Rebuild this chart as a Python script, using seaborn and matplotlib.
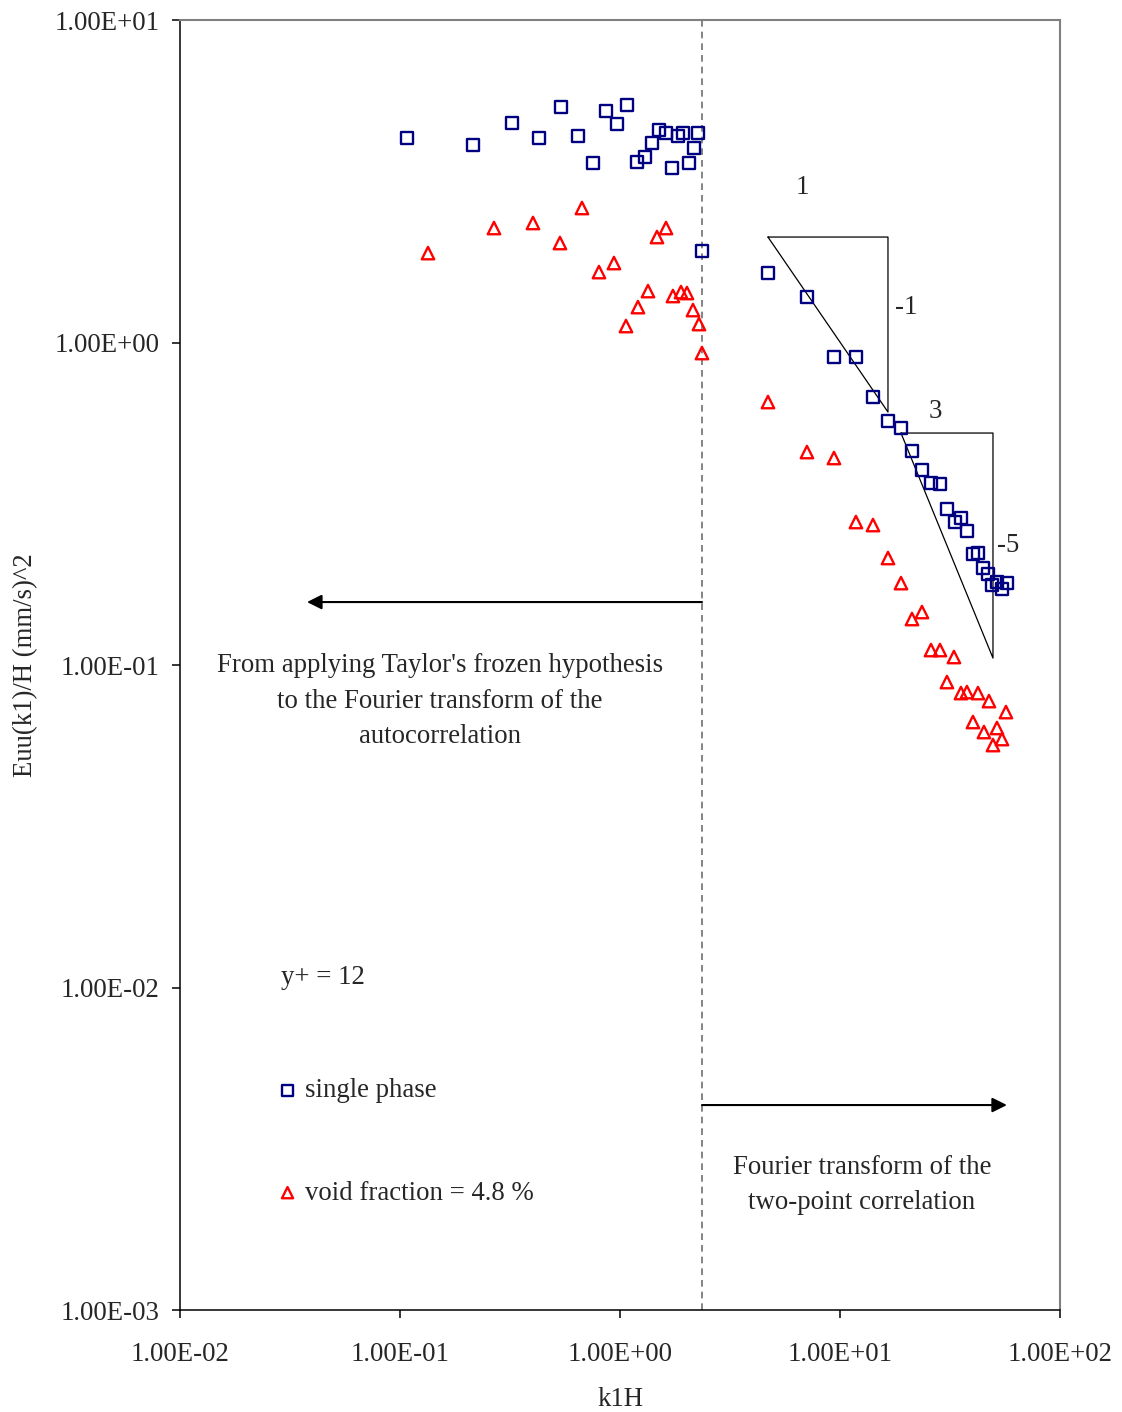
import numpy as np
import pandas as pd
import matplotlib
matplotlib.use("Agg")
import matplotlib.pyplot as plt
import seaborn as sns

# ---------------- data ----------------
single_k = [0.1076, 0.2147, 0.3229, 0.4283, 0.5393, 0.6443, 0.7540, 0.8638, 0.9691, 1.076,
            1.195, 1.299, 1.398, 1.504, 1.619, 1.723, 1.835, 1.933, 2.059, 2.170, 2.262, 2.359,
            4.707, 7.079, 9.391, 11.82, 14.13, 16.53, 18.94, 21.25, 23.59, 25.93, 28.48,
            30.64, 33.32, 35.48, 37.78, 40.23, 42.39, 44.67, 47.07, 49.09, 51.72, 54.50, 57.42]
single_E = [4.307, 4.098, 4.793, 4.307, 5.374, 4.369, 3.603, 5.223, 4.759, 5.452,
            3.628, 3.760, 4.156, 4.559, 4.462, 3.476, 4.369, 4.462, 3.603, 4.011, 4.462, 1.921,
            1.642, 1.384, 0.9016, 0.9016, 0.6776, 0.5711, 0.5432, 0.4609, 0.4024, 0.3667, 0.3641,
            0.3046, 0.2776, 0.2857, 0.2603, 0.2209, 0.2225, 0.1999, 0.1915, 0.1770, 0.1808, 0.1720, 0.1795]

void_k = [0.1341, 0.2675, 0.4023, 0.5336, 0.6718, 0.8027, 0.9391, 1.065, 1.207, 1.341,
          1.473, 1.619, 1.741, 1.894, 2.016, 2.147, 2.286, 2.359,
          4.707, 7.079, 9.391, 11.82, 14.13, 16.53, 18.94, 21.25, 23.59, 25.93, 28.48,
          32.97, 30.64, 35.48, 37.78, 42.39, 47.56, 56.82, 40.23, 45.13, 51.72, 49.61, 54.50]
void_E = [1.894, 2.265, 2.348, 2.035, 2.613, 1.654, 1.764, 1.125, 1.288, 1.444,
          2.124, 2.265, 1.394, 1.434, 1.424, 1.261, 1.141, 0.9277,
          0.6539, 0.4576, 0.4385, 0.2776, 0.2717, 0.2147, 0.1795, 0.1389, 0.1460, 0.1113, 0.1113,
          0.1059, 0.08857, 0.08187, 0.08246, 0.08187, 0.07731, 0.07148, 0.06658, 0.06198, 0.06380, 0.05648, 0.05895]

# slope-guide triangles (annotations)
tri1_k = [4.707, 16.53, 16.53, 4.707]
tri1_E = [2.124, 2.124, 0.6088, 2.124]
tri2_k = [18.94, 49.61, 49.61, 18.94]
tri2_E = [0.5241, 0.5241, 0.1051, 0.5241]

split_k = 2.36
left_arrow = ((2.36, 0.1568), (0.0378, 0.1568))
right_arrow = ((2.36, 0.004322), (57.4, 0.004322))

tick_vals = [1e-2, 1e-1, 1e0, 1e1, 1e2]
x_tick_labels = ["1.00E-02", "1.00E-01", "1.00E+00", "1.00E+01", "1.00E+02"]
y_tick_vals = [1e-3, 1e-2, 1e-1, 1e0, 1e1]
y_tick_labels = ["1.00E-03", "1.00E-02", "1.00E-01", "1.00E+00", "1.00E+01"]

df_single = pd.DataFrame({"k1H": single_k, "E": single_E})
df_void = pd.DataFrame({"k1H": void_k, "E": void_E})

# ---------------- style ----------------
sns.set_style("white")
plt.rcParams["font.family"] = ["Liberation Serif", "DejaVu Serif"]
FS = 19.3
plt.rcParams["font.size"] = FS

fig = plt.figure(figsize=(11.22, 14.12), dpi=100)
ax = fig.add_axes([0.1604, 0.0722, 0.7843, 0.9136])

navy = "#000080"
red = "#FF0000"

sns.scatterplot(data=df_single, x="k1H", y="E", ax=ax, marker="s", s=75,
                facecolor="none", edgecolor=navy, linewidth=1.7, label="single phase", zorder=3)
sns.scatterplot(data=df_void, x="k1H", y="E", ax=ax, marker="^", s=80,
                facecolor="none", edgecolor=red, linewidth=1.7, label="void fraction = 4.8 %", zorder=3)

ax.set_xscale("log")
ax.set_yscale("log")
ax.set_xlim(1e-2, 1e2)
ax.set_ylim(1e-3, 1e1)

ax.xaxis.set_major_locator(matplotlib.ticker.FixedLocator(tick_vals))
ax.xaxis.set_major_formatter(matplotlib.ticker.FixedFormatter(x_tick_labels))
ax.yaxis.set_major_locator(matplotlib.ticker.FixedLocator(y_tick_vals))
ax.yaxis.set_major_formatter(matplotlib.ticker.FixedFormatter(y_tick_labels))
ax.xaxis.set_minor_locator(matplotlib.ticker.NullLocator())
ax.yaxis.set_minor_locator(matplotlib.ticker.NullLocator())
ax.tick_params(axis="both", which="major", direction="out", length=6, width=1.1,
               color="black", labelsize=FS, bottom=True, left=True, top=False, right=False)
ax.tick_params(axis="x", pad=17)
ax.tick_params(axis="y", pad=9)

for side in ["left", "bottom"]:
    ax.spines[side].set_color("black")
    ax.spines[side].set_linewidth(1.1)
for side in ["top", "right"]:
    ax.spines[side].set_color("#808080")
    ax.spines[side].set_linewidth(1.5)

ax.set_xlabel("k1H", fontsize=FS, labelpad=14.5)
ax.set_ylabel("Euu(k1)/H (mm/s)^2", fontsize=FS, labelpad=11.5)

# dashed separator
ax.axvline(split_k, color="#707070", lw=1.2, dashes=(4, 3), zorder=1)

# slope triangles
ax.plot(tri1_k, tri1_E, color="black", lw=0.9, zorder=2)
ax.plot(tri2_k, tri2_E, color="black", lw=0.9, zorder=2)

# arrows
for (start, end) in [left_arrow, right_arrow]:
    ax.annotate("", xy=end, xytext=start,
                arrowprops=dict(arrowstyle="-|>", color="black", lw=1.5,
                                mutation_scale=22, shrinkA=0, shrinkB=0))

# texts
ax.text(0.7068, 0.8705, "1", transform=ax.transAxes, ha="center", va="center", fontsize=FS)
ax.text(0.825, 0.7775, "-1", transform=ax.transAxes, ha="center", va="center", fontsize=FS)
ax.text(0.858, 0.6969, "3", transform=ax.transAxes, ha="center", va="center", fontsize=FS)
ax.text(0.9409, 0.5930, "-5", transform=ax.transAxes, ha="center", va="center", fontsize=FS)

ax.text(0.2955, 0.4721,
        "From applying Taylor's frozen hypothesis\nto the Fourier transform of the\nautocorrelation",
        transform=ax.transAxes, ha="center", va="center", fontsize=FS, linespacing=1.53)
ax.text(0.775, 0.0968, "Fourier transform of the\ntwo-point correlation",
        transform=ax.transAxes, ha="center", va="center", fontsize=FS, linespacing=1.53)
ax.text(0.1148, 0.2575, "y+ = 12", transform=ax.transAxes, ha="left", va="center", fontsize=FS)

leg = ax.legend(loc="center left", bbox_to_anchor=(0.107, 0.1303), frameon=False,
                fontsize=FS, labelspacing=2.89, handlelength=1.0, handletextpad=0.15,
                borderpad=0, borderaxespad=0, markerscale=0.9)

fig.savefig("out.png", dpi=100, facecolor="white")
